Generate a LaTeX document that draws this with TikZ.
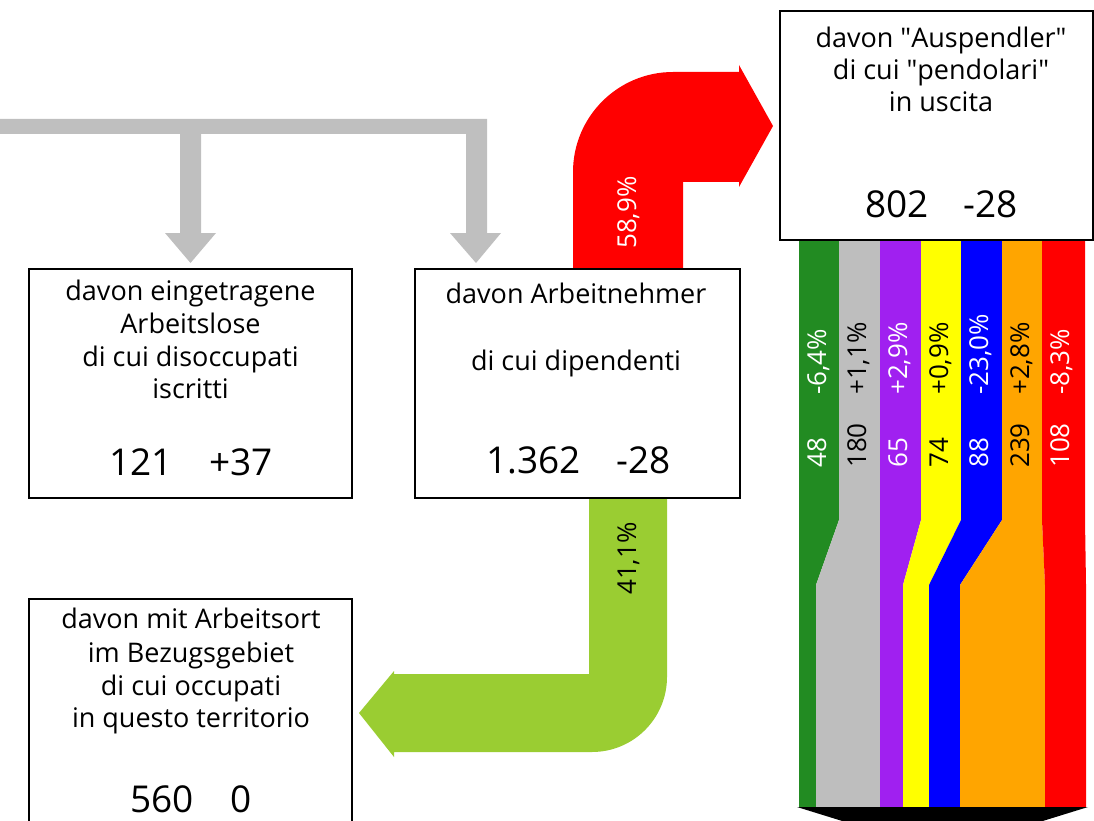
\documentclass[tikz,border=0pt]{standalone}
\usepackage{fontspec}
\setmainfont{Open Sans}
\begin{document}
\begin{tikzpicture}[x=1pt,y=-1pt,
  box/.style={draw, line width=2pt, inner sep=0pt, fill=white},
  txt/.style={font=\fontsize{27}{31}\selectfont, anchor=base, inner sep=0pt},
  num/.style={font=\fontsize{37}{45}\selectfont, anchor=base, inner sep=0pt},
  rot/.style={font=\fontsize{26}{31}\selectfont, rotate=90, anchor=base west, inner sep=0pt},
]
\definecolor{graybar}{HTML}{BFBFBF}
\definecolor{cgreen}{HTML}{228B22}
\definecolor{cgray}{HTML}{BEBEBE}
\definecolor{cpurple}{HTML}{A020F0}
\definecolor{cyellow}{HTML}{FFFF00}
\definecolor{cblue}{HTML}{0000FF}
\definecolor{corange}{HTML}{FFA500}
\definecolor{cred}{HTML}{FF0000}
\definecolor{cygreen}{HTML}{9ACD32}
\useasboundingbox (0,0) rectangle (1094,821);
\clip (0,0) rectangle (1094,821);

% gray arrows
\fill[graybar] (0,119) -- (487,119) -- (487,233) -- (501,233) -- (476,263) -- (450,233) -- (466,233) -- (466,134)
  -- (201,134) -- (201,233) -- (216,233) -- (190.5,263) -- (165,233) -- (180,233) -- (180,134) -- (0,134) -- cycle;

% red arrow
\fill[cred] (573,269) -- (573,172) .. controls (573,116.8) and (617.8,72) .. (673,72) -- (739,72) -- (739,65)
  -- (773,126) -- (739,187) -- (739,182) -- (683,182) -- (683,269) -- cycle;
\node[rot, text=white] (p589) at (636,249) {58,9\%};

% green arrow
\fill[cygreen] (589,498) -- (667,498) -- (667,677) .. controls (667,718.4) and (633.4,752) .. (592,752)
  -- (394,752) -- (394,757) -- (359,713) -- (394,671) -- (394,674) -- (589,674) -- cycle;
\node[rot, text=black] (p411) at (636,595) {41,1\%};

% stripes
\foreach \Lt/\Rt/\Lb/\Rb/\c/\tc/\v/\p [count=\i] in {
  799/839/799/816/cgreen/white/48/{-6,4\%},
  839/880/816/880/cgray/black/180/{+1,1\%},
  880/921/880/903/cpurple/white/65/{+2,9\%},
  921/961/903/929/cyellow/black/74/{+0,9\%},
  961/1002/929/960/cblue/white/88/{-23,0\%},
  1002/1042/960/1045/corange/black/239/{+2,8\%},
  1042/1085/1045/1086/cred/white/108/{-8,3\%}}{
  \fill[\c] (\Lt,241) -- (\Rt,241) -- (\Rt,520) -- (\Rb,585) -- (\Rb,807) -- (\Lb,807) -- (\Lb,585) -- (\Lt,520) -- cycle;
  \node[rot, text=\tc] (v\i) at (\Lt+27,468) {\v};
  \node[rot, text=\tc] (q\i) at (\Lt+27,395) {\p};
}
% black arrow
\fill[black] (797,807) -- (1088,807) -- (942.5,852) -- cycle;

% boxes
\node[box, minimum width=323pt, minimum height=229pt] (b1) at (190.5,383.5) {};
\node[box, minimum width=325pt, minimum height=229pt] (b2) at (577.5,383.5) {};
\node[box, minimum width=313pt, minimum height=229pt] (b3) at (936.5,125.5) {};
\node[box, minimum width=323pt, minimum height=251pt] (b4) at (190.5,724.5) {};

% box 1 text
\node[txt] (t11) at (190.5,300) {davon eingetragene};
\node[txt] (t12) at (190.5,333) {Arbeitslose};
\node[txt] (t13) at (190.5,366) {di cui disoccupati};
\node[txt] (t14) at (190.5,398) {iscritti};
\node[num] (n1) at (191,475) {121\hspace{37pt}+37};

% box 2 text
\node[txt] (t21) at (576,303) {davon Arbeitnehmer};
\node[txt] (t22) at (576,370) {di cui dipendenti};
\node[num] (n2) at (578.5,473) {1.362\hspace{35pt}-28};

% box 3 text
\node[txt] (t31) at (941,48) {davon \textquotedbl Auspendler\textquotedbl};
\node[txt] (t32) at (941,80) {di cui \textquotedbl pendolari\textquotedbl};
\node[txt] (t33) at (941,112) {in uscita};
\node[num] (n3) at (941.5,217) {802\hspace{35pt}-28};

% box 4 text
\node[txt] (t41) at (191,628) {davon mit Arbeitsort};
\node[txt] (t42) at (191,662) {im Bezugsgebiet};
\node[txt] (t43) at (191,695) {di cui occupati};
\node[txt] (t44) at (191,727) {in questo territorio};
\node[num] (n4) at (191,812) {560\hspace{37pt}0};
\end{tikzpicture}
\end{document}
